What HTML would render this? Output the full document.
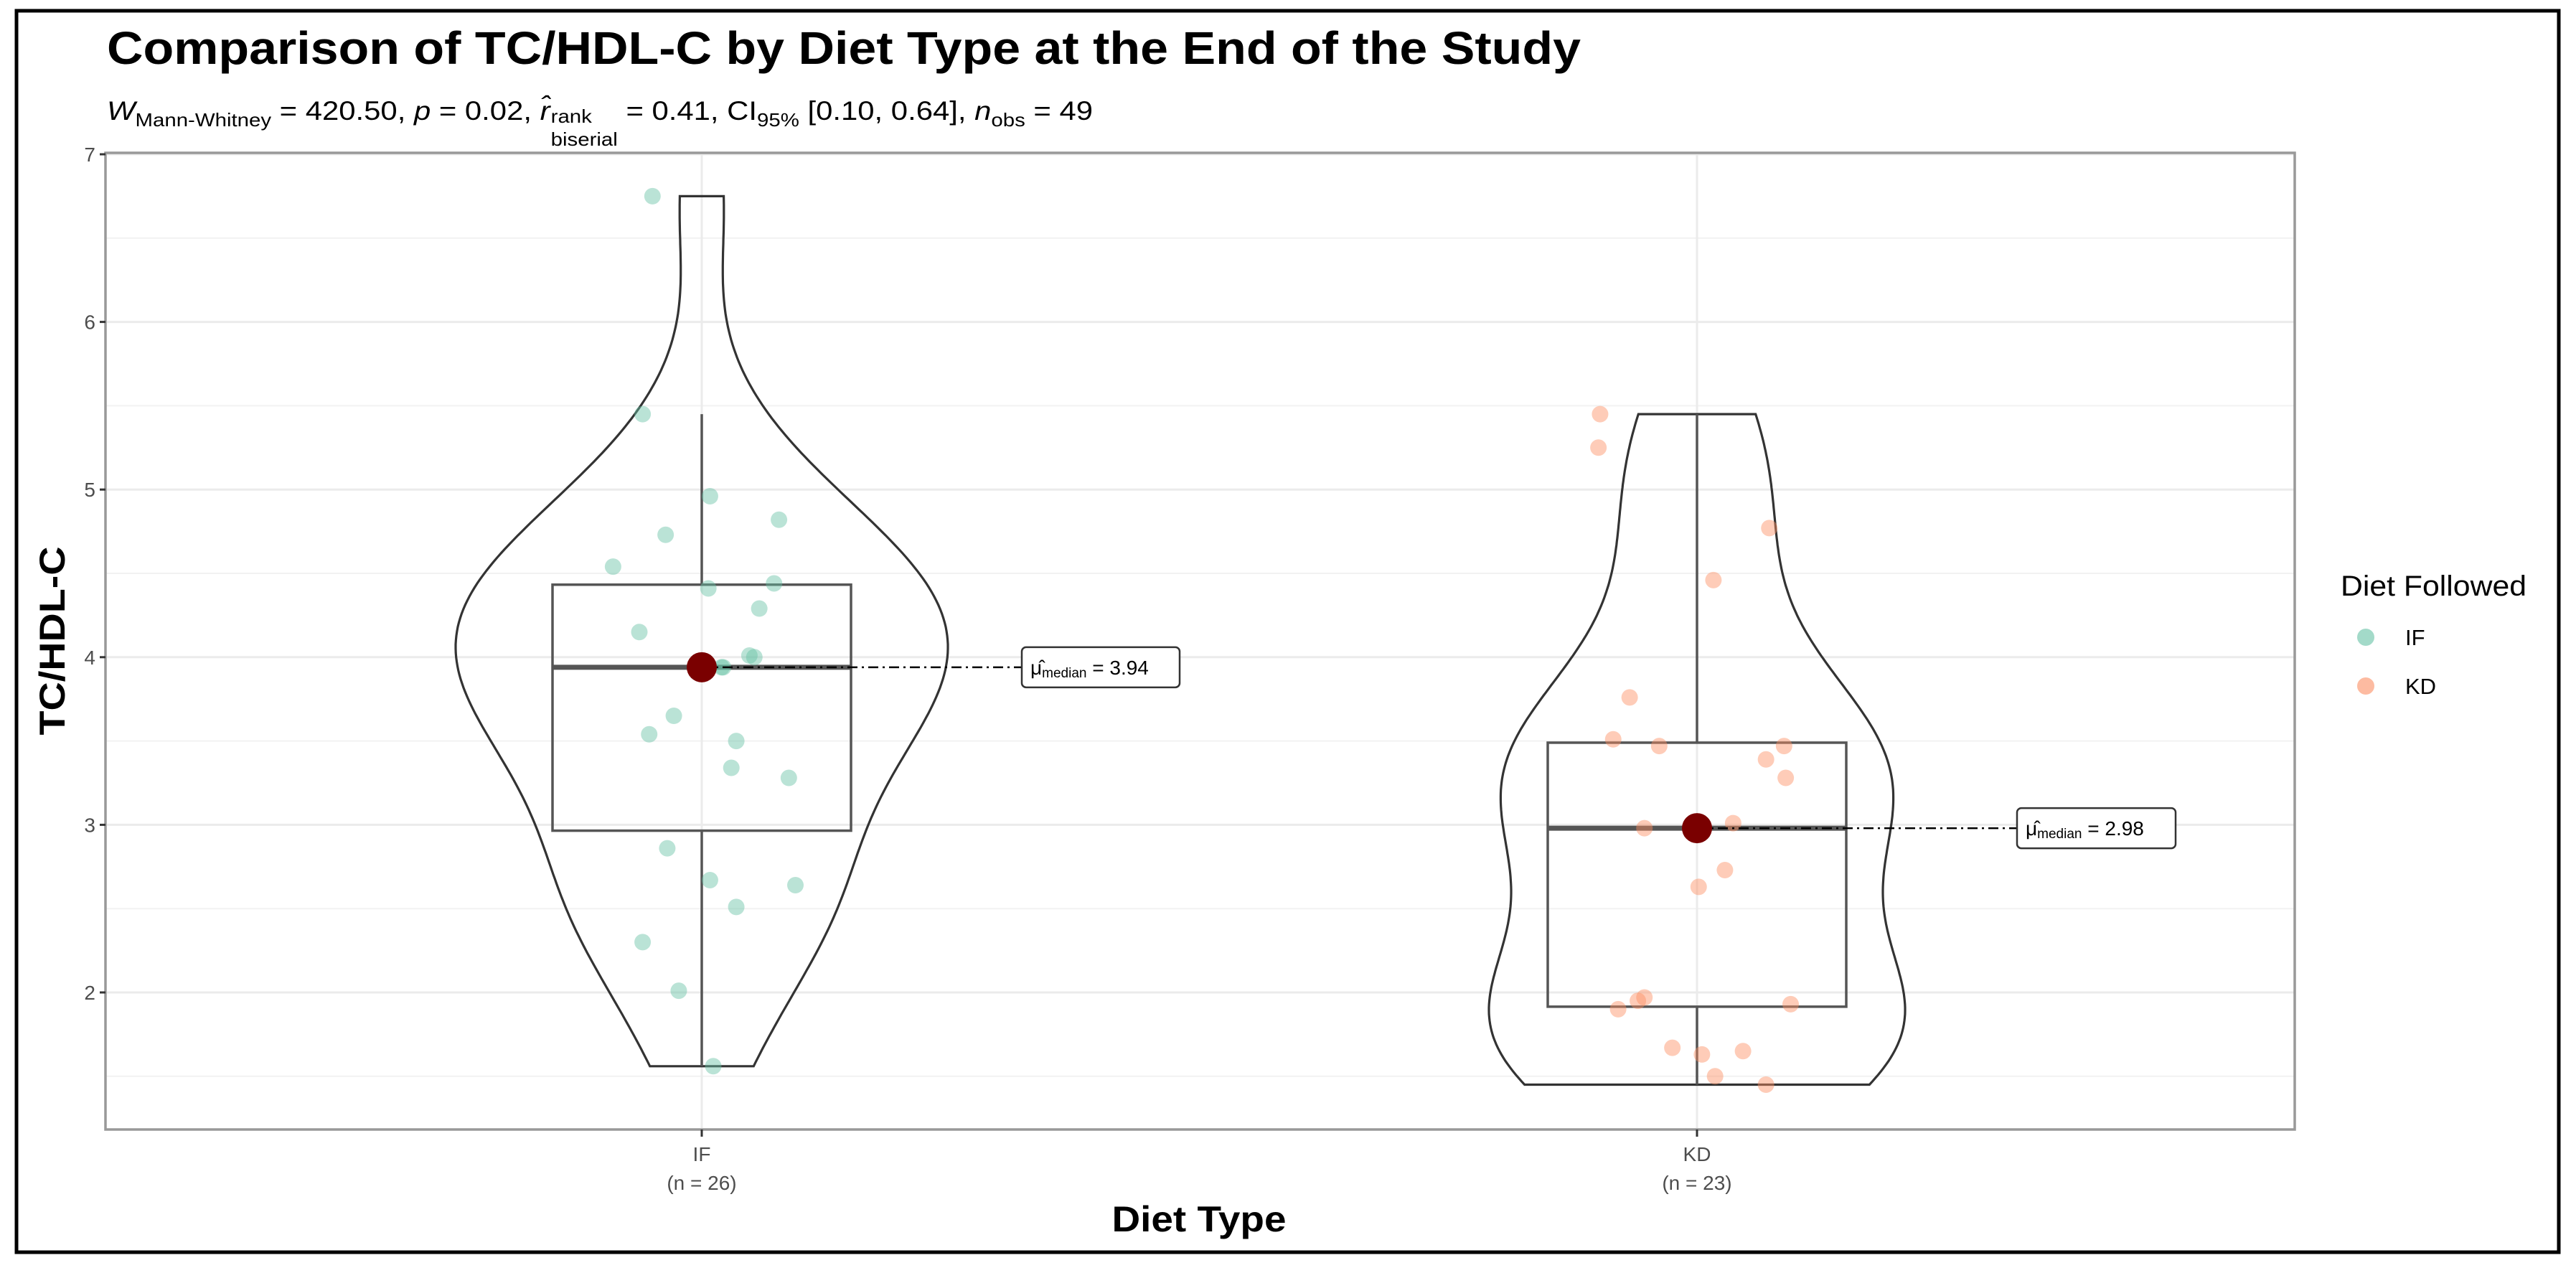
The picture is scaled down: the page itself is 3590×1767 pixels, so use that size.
<!DOCTYPE html>
<html><head><meta charset="utf-8">
<style>
html,body{margin:0;padding:0;background:#fff;}
svg{display:block;font-family:"Liberation Sans",Arial,sans-serif;}
#sub{position:absolute;left:149px;top:134px;font:37px "Liberation Sans",Arial,sans-serif;color:#000;white-space:nowrap;transform-origin:0 0;}
#sub i{font-style:italic;}
#sub .sb{font-size:26px;vertical-align:-9px;}
.stk{display:inline-flex;flex-direction:column;vertical-align:-12px;font-size:26px;line-height:24px;margin-left:1px;}
</style></head>
<body>
<div style="position:relative;width:3590px;height:1767px;">
<svg id="chart" width="3590" height="1767" viewBox="0 0 3590 1767"></svg>
<div id="sub"><i>W</i><span class="sb">Mann-Whitney</span> = 420.50, <i>p</i> = 0.02, <i>r&#770;</i><span class="stk"><span style="position:relative;top:-8px">rank</span><span>biserial</span></span> = 0.41, CI<span class="sb">95%</span> [0.10, 0.64], <i>n</i><span class="sb">obs</span> = 49</div>
</div>
<script>
const categories = ["IF","KD"];
const counts = [26,23];
const ifValues = [6.75,5.45,4.96,4.73,4.82,4.54,4.41,4.44,4.15,4.29,4.01,4.00,3.94,3.65,3.54,3.50,3.34,3.28,2.86,2.67,2.51,2.64,2.30,2.01,1.56,3.94];
const ifJitter = [-30,-36,5,-22,47,-54,4,44,-38,35,29,32,13,-17,-32,21,18,53,-21,5,21,57,-36,-14,7,12];
const kdValues = [5.45,5.25,4.77,4.46,3.76,3.51,3.47,3.47,3.39,3.28,2.98,3.01,2.73,2.63,1.90,1.95,1.97,1.93,1.67,1.63,1.65,1.50,1.45];
const kdJitter = [-59,-60,44,10,-41,-51,-23,53,42,54,-32,22,17,1,-48,-36,-32,57,-15,3,28,11,42];
const medianLabels = ["3.94","2.98"];
const yTicks = [2,3,4,5,6,7];
const yMinor = [1.5,2.5,3.5,4.5,5.5,6.5];

const NS="http://www.w3.org/2000/svg";
const svg=document.getElementById('chart');
function mk(tag,attrs,parent){const e=document.createElementNS(NS,tag);for(const k in attrs)e.setAttribute(k,attrs[k]);(parent||svg).appendChild(e);return e;}
const P={l:147,r:3198,t:213,b:1574};
const y=v=>215+(7-v)*233.6;
const xc=i=>978+i*1387;
const jx=(i,d)=>xc(i)+d*2.2895;

let e;
e=mk('rect',{x:0,y:0,width:3590,height:1767,fill:'#fff'});


e=mk('rect',{x:23,y:15,width:3543,height:1730,fill:'none',stroke:'#000','stroke-width':5});



e=mk('text',{x:149,y:89,'font-size':64,'font-weight':'bold',fill:'#000',textLength:2054,lengthAdjust:'spacingAndGlyphs'});
e.textContent='Comparison of TC/HDL-C by Diet Type at the End of the Study';



yMinor.forEach(v=>{const g=mk('line',{x1:P.l,x2:P.r,y1:y(v),y2:y(v),stroke:'#f2f2f2','stroke-width':2});

});
yTicks.forEach(v=>{const g=mk('line',{x1:P.l,x2:P.r,y1:y(v),y2:y(v),stroke:'#ebebeb','stroke-width':3});

});
categories.forEach((c,i)=>{const g=mk('line',{x1:xc(i),x2:xc(i),y1:P.t,y2:P.b,stroke:'#ebebeb','stroke-width':3});

});

function quant(a,p){const s=[...a].sort((x,z)=>x-z);const h=(s.length-1)*p;const lo=Math.floor(h);return s[lo]+(h-lo)*((s[lo+1]??s[lo])-s[lo]);}
function sd(a){const m=a.reduce((x,z)=>x+z,0)/a.length;return Math.sqrt(a.reduce((x,z)=>x+(z-m)*(z-m),0)/(a.length-1));}
function kde(a,t,bw){let s=0;for(const v of a){const u=(t-v)/bw;s+=Math.exp(-0.5*u*u);}return s/(a.length*bw*Math.sqrt(2*Math.PI));}

const groups=[ifValues,kdValues];
const jitters=[ifJitter,kdJitter];
const colors=['#66C2A5','#FC8D62'];
const VW=[343,290];
const gname=['if','kd'];

groups.forEach((vals,gi)=>{
  const iqr=quant(vals,.75)-quant(vals,.25);
  const bw=0.9*Math.min(sd(vals),iqr/1.34)*Math.pow(vals.length,-0.2);
  const mn=Math.min(...vals),mx=Math.max(...vals);
  const N=200;const pts=[];let md=0;
  for(let k=0;k<=N;k++){const t=mn+(mx-mn)*k/N;const d=kde(vals,t,bw);pts.push([t,d]);if(d>md)md=d;}
  let dR='',dL='';
  pts.forEach(([t,d],k)=>{dR+=(k?'L':'M')+(xc(gi)+d/md*VW[gi]).toFixed(1)+','+y(t).toFixed(1);});
  for(let k=pts.length-1;k>=0;k--){const [t,d]=pts[k];dL+='L'+(xc(gi)-d/md*VW[gi]).toFixed(1)+','+y(t).toFixed(1);}
  const v=mk('path',{d:dR+dL+'Z',fill:'none',stroke:'#333','stroke-width':3.2});
  
  

  const q1=quant(vals,.25),q3=quant(vals,.75),med=quant(vals,.5);
  const lo=Math.min(...vals.filter(z=>z>=q1-1.5*iqr)),hi=Math.max(...vals.filter(z=>z<=q3+1.5*iqr));
  const hw=208;
  const w1=mk('line',{x1:xc(gi),x2:xc(gi),y1:y(hi),y2:y(q3),stroke:'#555','stroke-width':3.5});
  
  
  const w2=mk('line',{x1:xc(gi),x2:xc(gi),y1:y(q1),y2:y(lo),stroke:'#555','stroke-width':3.5});
  
  
  const bx=mk('rect',{x:xc(gi)-hw,y:y(q3),width:2*hw,height:y(q1)-y(q3),fill:'none',stroke:'#555','stroke-width':3.5});
  
  
  const ml=mk('line',{x1:xc(gi)-hw,x2:xc(gi)+hw,y1:y(med),y2:y(med),stroke:'#555','stroke-width':7});
  
  

  vals.forEach((val,k)=>{
    const c=mk('circle',{cx:jx(gi,jitters[gi][k]),cy:y(val),r:11.5,fill:colors[gi],'fill-opacity':0.45});
    
    
  });

  const lx=gi===0?1424:2811, lw=gi===0?220:221;
  const dl=mk('line',{x1:xc(gi),x2:lx,y1:y(med),y2:y(med),stroke:'#000','stroke-width':2.5,'stroke-dasharray':'14 6 3 6'});
  
  
  const rd=mk('circle',{cx:xc(gi),cy:y(med),r:21,fill:'#7a0000'});
  
  
  const lb=mk('rect',{x:lx,y:y(med)-28,width:lw,height:56,rx:6,fill:'#fff',stroke:'#333','stroke-width':2.5});
  
  
  const tx=mk('text',{x:lx+12,y:y(med)+10,'font-size':28,fill:'#000'});
  tx.innerHTML='<tspan>μ̂</tspan><tspan font-size="19" dy="4">median</tspan><tspan dy="-4"> = '+medianLabels[gi]+'</tspan>';
  
  
});

e=mk('rect',{x:P.l,y:P.t,width:P.r-P.l,height:P.b-P.t,fill:'none',stroke:'#999','stroke-width':3.5});



yTicks.forEach(v=>{
  const t=mk('line',{x1:P.l-8,x2:P.l,y1:y(v),y2:y(v),stroke:'#333','stroke-width':3});
  
  
  const l=mk('text',{x:P.l-14,y:y(v)+10,'font-size':28,'text-anchor':'end',fill:'#4d4d4d'});
  l.textContent=String(v);
  
  
});
categories.forEach((c,i)=>{
  const t=mk('line',{x1:xc(i),x2:xc(i),y1:P.b,y2:P.b+10,stroke:'#333','stroke-width':3});
  
  
  const l=mk('text',{x:xc(i),y:1618,'font-size':28,'text-anchor':'middle',fill:'#4d4d4d'});
  l.textContent=c;
  
  
  const n=mk('text',{x:xc(i),y:1658,'font-size':28,'text-anchor':'middle',fill:'#4d4d4d'});
  n.textContent='(n = '+counts[i]+')';
  
  
});

e=mk('text',{x:0,y:0,'font-size':50,'font-weight':'bold','text-anchor':'middle',textLength:263,lengthAdjust:'spacingAndGlyphs',transform:'translate(90,893) rotate(-90)'});
e.textContent='TC/HDL-C';


e=mk('text',{x:1671,y:1716,'font-size':50,'font-weight':'bold','text-anchor':'middle',textLength:243,lengthAdjust:'spacingAndGlyphs'});
e.textContent='Diet Type';



e=mk('text',{x:3262,y:830,'font-size':40,fill:'#000',textLength:259,lengthAdjust:'spacingAndGlyphs'});
e.textContent='Diet Followed';


categories.forEach((c,i)=>{
  const cy=888+i*68;
  const d=mk('circle',{cx:3297,cy:cy,r:12,fill:colors[i],'fill-opacity':0.6});
  
  
  const t=mk('text',{x:3352,y:cy+11,'font-size':31,fill:'#000'});
  t.textContent=c;
  
  
});

// fit subtitle width to reference
const sub=document.getElementById('sub');
const w=sub.getBoundingClientRect().width;
sub.style.transform='scaleX('+(1374/w)+')';
</script>
</body></html>
